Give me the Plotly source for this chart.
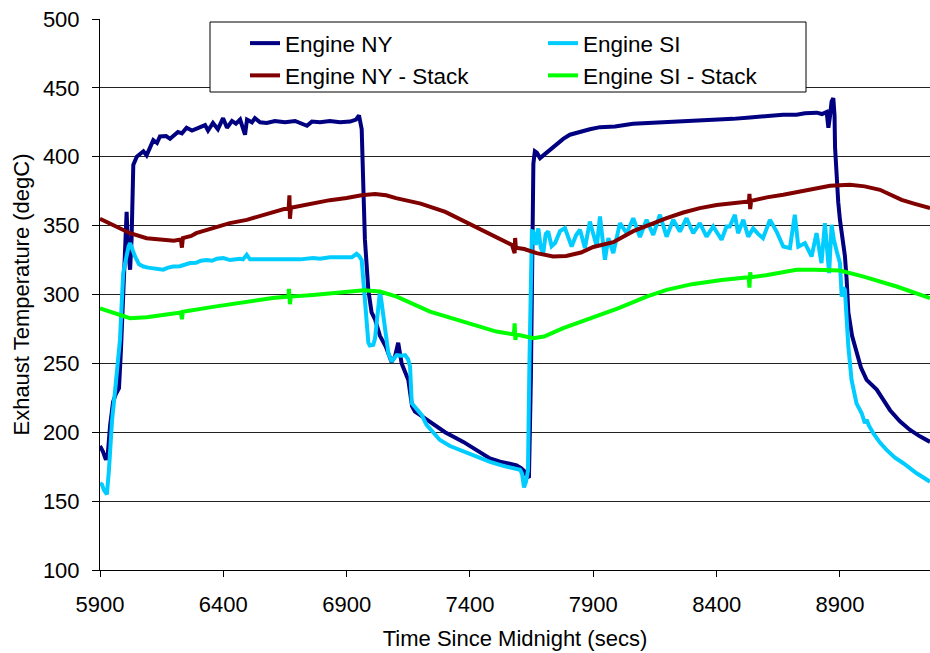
import plotly.graph_objects as go

# ---------------- data ----------------
ny_x = [5900, 5912, 5924, 5932, 5941, 5953, 5965, 5977, 5985, 5993, 6001, 6008, 6013, 6022, 6028,
        6035, 6049, 6062, 6076, 6089, 6103, 6116, 6131, 6143, 6168, 6184, 6197, 6216, 6232, 6251,
        6273, 6289, 6305, 6326, 6338, 6358, 6378, 6399, 6415, 6435, 6451, 6468, 6488, 6496, 6516,
        6528, 6549, 6576, 6609, 6650, 6691, 6711, 6739, 6759, 6792, 6832, 6873, 6914, 6938, 6950,
        6961, 6968, 6974, 6988, 7001, 7015, 7035, 7059, 7082, 7096, 7109, 7123, 7137, 7150, 7165,
        7177, 7197, 7238, 7299, 7373, 7441, 7481, 7522, 7562, 7589, 7607, 7619, 7631, 7639, 7647,
        7651, 7657, 7663, 7671, 7684, 7704, 7724, 7748, 7778, 7805, 7846, 7886, 7927, 7988, 8061,
        8130, 8197, 8263, 8332, 8397, 8466, 8535, 8603, 8669, 8724, 8758, 8806, 8827, 8846, 8853,
        8860, 8866, 8873, 8878, 8880, 8887, 8893, 8900, 8910, 8920, 8927, 8934, 8949, 8967, 8985,
        9008, 9026, 9049, 9074, 9103, 9143, 9184, 9224, 9265]
ny_y = [190, 186, 180, 185, 205, 222, 228, 232, 260, 300, 345, 360, 335, 318, 340,
        394, 400, 402, 404, 401, 407, 412, 410, 414.7, 415, 413, 415, 418, 417, 421,
        419, 420, 421, 423, 419, 424.5, 420, 428, 421, 426, 424, 427, 416, 427, 425,
        428, 425, 424.5, 426, 425, 426, 424.5, 422.5, 425.5, 425, 426, 425, 425.5, 427, 430,
        420, 376, 340, 303, 287, 282, 270, 262, 251, 255, 265, 250, 244, 238, 219,
        215, 212.6, 207.7, 200, 193, 185, 181, 178.7, 177, 176, 174, 172, 168, 167, 240,
        330, 395, 404, 403, 399, 402, 405, 409, 413, 416, 418.4, 420, 421.5, 422, 424,
        424.5, 425.5, 425.5, 426.5, 427, 427.5, 428.5, 429.5, 430.5, 430.5, 431.5, 432, 431, 432.5, 421,
        430, 440, 442.5, 430, 407, 383, 367, 354, 340, 328, 311, 287, 270, 257.4, 247,
        238, 235, 231, 224, 216, 208, 201.7, 197, 193]

si_x = [5900, 5908, 5916, 5928, 5936, 5949, 5961, 5969, 5977, 5981, 5987, 5994, 6001, 6008, 6016,
        6022, 6030, 6042, 6058, 6076, 6095, 6116, 6135, 6156, 6176, 6197, 6224, 6245, 6265, 6289,
        6309, 6333, 6354, 6374, 6400, 6427, 6468, 6480, 6495, 6508, 6549, 6589, 6630, 6670, 6711,
        6764, 6792, 6832, 6873, 6900, 6921, 6940, 6950, 6961, 6967, 6974, 6981, 6988, 6994, 7008,
        7015, 7022, 7029, 7035, 7041, 7049, 7059, 7069, 7082, 7092, 7103, 7120, 7137, 7149, 7157,
        7164, 7177, 7204, 7224, 7250, 7278, 7319, 7373, 7441, 7481, 7535, 7570, 7603, 7611, 7619,
        7627, 7635, 7641, 7647, 7651, 7657, 7667, 7677, 7687, 7697, 7707, 7717, 7731, 7745, 7765,
        7785, 7812, 7830, 7846, 7866, 7886, 7914, 7927, 7947, 7961, 7981, 8008, 8035, 8062, 8089,
        8116, 8143, 8170, 8197, 8224, 8251, 8278, 8305, 8332, 8359, 8386, 8420, 8440, 8453, 8474,
        8487, 8508, 8528, 8548, 8568, 8588, 8616, 8643, 8670, 8697, 8717, 8731, 8758, 8785, 8805,
        8825, 8839, 8856, 8866, 8875, 8887, 8900, 8907, 8914, 8920, 8927, 8934, 8947, 8967, 8988,
        9001, 9008, 9017, 9035, 9062, 9089, 9123, 9157, 9211, 9265]
si_y = [163, 162, 158, 155, 172, 209, 230, 245, 262, 267, 290, 315.5, 322, 330, 335,
        337.3, 333, 327.6, 322, 320.3, 319.5, 319, 318, 318, 319.5, 320.3, 320.5, 322, 322.8, 323,
        324.5, 325, 324.5, 326, 326.4, 325, 326, 325.5, 328.8, 325.5, 325.5, 325, 325.2, 325.5, 325.5,
        326.4, 326, 327, 327, 327.6, 327, 329.5, 328, 325, 310, 291, 276, 265, 263, 263.5,
        268, 279, 292, 302, 295, 284, 268, 257.4, 251.3, 254, 256, 255.5, 256, 253, 247.7,
        221, 218, 212.6, 205.3, 199.5, 194.4, 190, 186, 181, 178.5, 175.6, 174, 172.7, 170, 160,
        164, 172, 250, 330, 346, 345.7, 336, 348, 334, 330, 344, 345.7, 335, 337.3, 346,
        348.2, 334.8, 343, 347, 333.7, 353, 334.8, 356.6, 325.2, 341, 330, 351.8, 344.5, 355.4, 341.7,
        354.2, 343.3, 357.9, 342, 354.2, 345.7, 355.4, 344.5, 351.8, 342, 349.4, 339.7, 349.4, 349.4, 357.9,
        344.5, 354.2, 342, 348, 344, 340.9, 354.2, 345.7, 334.8, 333.7, 357.9, 334.8, 337.3, 327.6, 344.5,
        322.8, 351.8, 315.5, 350.6, 340, 331.2, 322.8, 298.5, 305, 303.4, 276.7, 262.2, 238, 221, 213.8,
        206.6, 209, 205, 199.3, 192.5, 187.2, 181.5, 177.5, 170.2, 164.1]

nys_x = [5900, 5954, 6022, 6089, 6156, 6200, 6228, 6232, 6236, 6270, 6290, 6358, 6426, 6495, 6563,
         6630, 6665, 6668, 6670, 6674, 6764, 6832, 6900, 6960, 7015, 7060, 7100, 7200, 7300, 7400,
         7450, 7522, 7570, 7581, 7583, 7586, 7620, 7670, 7737, 7790, 7850, 7900, 7981, 8062, 8130,
         8197, 8265, 8332, 8400, 8466, 8531, 8533, 8536, 8540, 8603, 8670, 8740, 8806, 8860, 8940,
         9000, 9062, 9150, 9200, 9265]
nys_y = [355, 350.6, 344.5, 340.9, 339.5, 339, 340, 334, 341, 342.5, 344.5, 348.2, 351.8, 354.2, 358,
         361.5, 363, 372, 355, 363, 366.4, 368.5, 370, 372, 373, 372, 370, 366, 360, 351,
         347, 340, 336, 330, 341, 334, 333, 330, 327.6, 328, 330.5, 334.5, 338, 346, 351,
         355.4, 359.5, 362.7, 365, 366.5, 367.5, 373, 362, 368, 370.5, 372.4, 375, 377.3, 379, 379.6,
         378.5, 376, 368.7, 366, 362.7]

sis_x = [5900, 5954, 6022, 6089, 6156, 6228, 6232, 6236, 6358, 6495, 6600, 6664, 6666, 6670, 6674,
         6764, 6900, 6970, 7035, 7103, 7238, 7373, 7507, 7578, 7581, 7584, 7588, 7657, 7700, 7778,
         7913, 8000, 8116, 8197, 8300, 8420, 8530, 8533, 8536, 8540, 8600, 8724, 8800, 8900, 8996,
         9130, 9265]
sis_y = [290, 286.5, 282.8, 283.5, 285.5, 287, 282, 287.5, 291, 294.9, 297.5, 298.5, 304, 293, 298.5,
         299.7, 302.2, 303, 302.2, 298.5, 287.6, 280.4, 273.1, 271, 279, 267, 271, 268.3, 269.5, 275.6,
         284, 290, 298.5, 303.4, 307.5, 310.5, 312.5, 305, 316, 312.5, 314, 317.9, 318, 317.4, 313,
         305.8, 297.4]

series_names = ["Engine NY", "Engine SI", "Engine NY - Stack", "Engine SI - Stack"]
series_colors = ["#000080", "#00CCFF", "#800000", "#00FF00"]
x_ticks = [5900, 6400, 6900, 7400, 7900, 8400, 8900]
y_ticks = [100, 150, 200, 250, 300, 350, 400, 450, 500]

# ---------------- figure ----------------
FONT = "Liberation Sans, Arial, sans-serif"
fig = go.Figure()
for xs, ys, name, col in zip([ny_x, si_x, nys_x, sis_x], [ny_y, si_y, nys_y, sis_y],
                             series_names, series_colors):
    fig.add_trace(go.Scatter(x=xs, y=ys, mode="lines", name=name,
                             line=dict(color=col, width=4)))

W, H = 930, 653
ML, MR, MT, MB = 100, 0, 19, 83
pw, ph = W - ML - MR, H - MT - MB

def px_x(p):
    return (p - ML) / pw

def px_y(q):
    return (MT + ph - q) / ph

fig.add_shape(type="rect", xref="paper", yref="paper",
              x0=px_x(210), x1=px_x(806), y0=px_y(92), y1=px_y(22),
              fillcolor="white", line=dict(color="black", width=1), layer="above")

fig.update_layout(
    width=W, height=H,
    margin=dict(l=ML, r=MR, t=MT, b=MB, pad=0),
    paper_bgcolor="white", plot_bgcolor="white",
    font=dict(family=FONT, size=22, color="black"),
    showlegend=True,
    legend=dict(orientation="h", x=px_x(245), y=px_y(22), xanchor="left", yanchor="top",
                entrywidth=253, entrywidthmode="pixels", bgcolor="rgba(0,0,0,0)",
                borderwidth=0, font=dict(size=22.5), traceorder="normal"),
    xaxis=dict(range=[5900, 9265], tickvals=x_ticks, ticks="outside", ticklen=6,
               tickcolor="black", showline=True, linecolor="black", linewidth=1,
               showgrid=False, zeroline=False, ticklabelstandoff=9,
               title=dict(text="Time Since Midnight (secs)", standoff=14,
                          font=dict(size=22))),
    yaxis=dict(range=[100, 500], tickvals=y_ticks, ticks="outside", ticklen=7,
               tickcolor="black", showline=True, linecolor="black", linewidth=1,
               showgrid=True, gridcolor="#222", gridwidth=1, zeroline=False,
               ticklabelstandoff=8,
               title=dict(text="Exhaust Temperature (degC)", standoff=7,
                          font=dict(size=22))),
)

fig.write_html("out.html")
